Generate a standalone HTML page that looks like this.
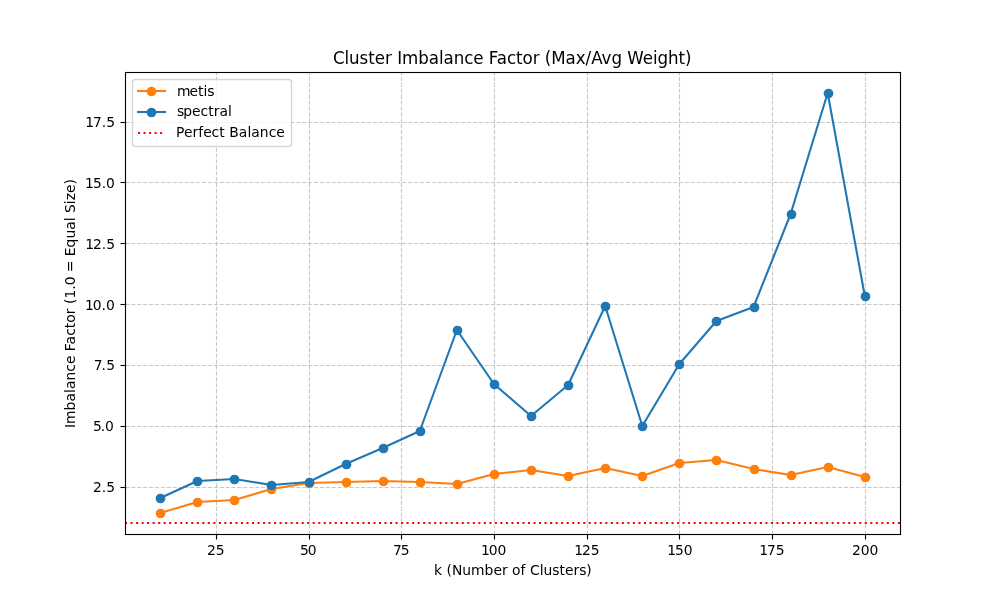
<!DOCTYPE html>
<html lang="en"><head><meta charset="utf-8"><title>Cluster Imbalance Factor (Max/Avg Weight)</title>
<style>html,body{margin:0;padding:0;background:#fff;overflow:hidden}svg{display:block}text{font-family:"DejaVu Sans","Liberation Sans",sans-serif;fill:#000}.t10{font-size:13.889px}.t12{font-size:16.667px}.grid{stroke:#b0b0b0;stroke-opacity:.7;stroke-width:1.111;stroke-dasharray:4.111 1.778;fill:none}.tick{stroke:#000;stroke-width:1.111;fill:none}.spine{stroke:#000;stroke-width:1.111;fill:none;stroke-linecap:square}.ln{fill:none;stroke-width:2.083;stroke-linejoin:round;stroke-linecap:square}.lb{fill:none;stroke-width:2.083;stroke-linecap:butt}.dot{fill:none;stroke:#f00;stroke-width:2.083;stroke-dasharray:2.083 3.4375}</style></head><body>
<svg width="1000" height="600" viewBox="0 0 1000 600">
<rect width="1000" height="600" fill="#fff"/>
<defs><clipPath id="ax"><rect x="125" y="72" width="775" height="462"/></clipPath></defs>
<g class="grid" clip-path="url(#ax)">
<line x1="216.5" y1="534.5" x2="216.5" y2="72.5"/>
<line x1="309.5" y1="534.5" x2="309.5" y2="72.5"/>
<line x1="401.5" y1="534.5" x2="401.5" y2="72.5"/>
<line x1="494.5" y1="534.5" x2="494.5" y2="72.5"/>
<line x1="587.5" y1="534.5" x2="587.5" y2="72.5"/>
<line x1="679.5" y1="534.5" x2="679.5" y2="72.5"/>
<line x1="772.5" y1="534.5" x2="772.5" y2="72.5"/>
<line x1="865.5" y1="534.5" x2="865.5" y2="72.5"/>
<line x1="125.5" y1="487.5" x2="900.5" y2="487.5"/>
<line x1="125.5" y1="426.5" x2="900.5" y2="426.5"/>
<line x1="125.5" y1="365.5" x2="900.5" y2="365.5"/>
<line x1="125.5" y1="304.5" x2="900.5" y2="304.5"/>
<line x1="125.5" y1="243.5" x2="900.5" y2="243.5"/>
<line x1="125.5" y1="182.5" x2="900.5" y2="182.5"/>
<line x1="125.5" y1="122.5" x2="900.5" y2="122.5"/>
</g>
<g class="tick">
<line x1="216.5" y1="534.5" x2="216.5" y2="539.5"/>
<line x1="309.5" y1="534.5" x2="309.5" y2="539.5"/>
<line x1="401.5" y1="534.5" x2="401.5" y2="539.5"/>
<line x1="494.5" y1="534.5" x2="494.5" y2="539.5"/>
<line x1="587.5" y1="534.5" x2="587.5" y2="539.5"/>
<line x1="679.5" y1="534.5" x2="679.5" y2="539.5"/>
<line x1="772.5" y1="534.5" x2="772.5" y2="539.5"/>
<line x1="865.5" y1="534.5" x2="865.5" y2="539.5"/>
<line x1="125.5" y1="487.5" x2="120.5" y2="487.5"/>
<line x1="125.5" y1="426.5" x2="120.5" y2="426.5"/>
<line x1="125.5" y1="365.5" x2="120.5" y2="365.5"/>
<line x1="125.5" y1="304.5" x2="120.5" y2="304.5"/>
<line x1="125.5" y1="243.5" x2="120.5" y2="243.5"/>
<line x1="125.5" y1="182.5" x2="120.5" y2="182.5"/>
<line x1="125.5" y1="122.5" x2="120.5" y2="122.5"/>
</g>
<text class="t10" transform="translate(207.099 555.276) scale(1 0.96)" x="0 8.75">25</text>
<text class="t10" transform="translate(298.928 555.276) scale(1 0.98)" x="1 8.75">50</text>
<text class="t10" x="392.881 400.631" y="555.276">75</text>
<text class="t10" transform="translate(479.897 555.276) scale(1 0.96)" x="1 8.875 17.625">100</text>
<text class="t10" transform="translate(573.225 555.276) scale(1 0.97)" x="1 8.875 17.625">125</text>
<text class="t10" transform="translate(666.179 555.276) scale(1 1.01)" x="1 8.875 17.625">150</text>
<text class="t10" transform="translate(758.132 555.276) scale(1 0.97)" x="1 8.875 17.625">175</text>
<text class="t10" transform="translate(851.898 555.276) scale(1 0.98)" x="0 8.75 17.5">200</text>
<text class="t10" transform="translate(93.028 491.888) scale(1 0.99)" x="0 8.75 13.125">2.5</text>
<text class="t10" transform="translate(91.903 431.048) scale(1 0.96)" x="1 8.75 13.125">5.0</text>
<text class="t10" x="93.653 101.403 106.278" y="370.208">7.5</text>
<text class="t10" transform="translate(83.903 310.368) scale(1 0.96)" x="1 8.875 17.625 22">10.0</text>
<text class="t10" transform="translate(84.153 248.528) scale(1 0.97)" x="1 8.875 17.625 22">12.5</text>
<text class="t10" transform="translate(84.028 187.688) scale(1 0.99)" x="1 8.875 17.625 22">15.0</text>
<text class="t10" transform="translate(84.153 126.848) scale(1 0.97)" x="1 8.875 17.625 22">17.5</text>
<text class="t10" transform="translate(434 575.273) scale(1 1.02)" x="0 8.125 12.5 18 28.375 37.125 50.625 59.5 68 73.75 78.125 86.625 91.625 96 105.75 109.625 118.375 125.5 131 139.5 145.25 152.375">k (Number of Clusters)</text>
<text class="t10" transform="translate(74.909 303.5) rotate(-90) scale(1 1.03)" x="-124.438 -120.438 -106.938 -98.062 -89.438 -85.562 -76.938 -68.188 -60.562 -52.062 -47.688 -40.938 -32.312 -24.688 -19.188 -10.688 -4.938 -0.562 4.938 13.812 18.188 26.938 31.312 42.938 47.312 56.062 64.938 73.688 82.312 86.188 90.562 99.312 103.188 110.562 119.062" y="0">Imbalance Factor (1.0 = Equal Size)</text>
<text class="t12" transform="translate(332.938 63.667) scale(1 1.07)" x="0 11.5 16.125 26.625 35.375 41.875 52.125 59 64.25 69.125 85.375 95.875 106 110.625 120.75 131.25 140.375 150.625 155.875 163.875 174 183.125 189.625 199.75 206.625 211.875 218.25 232.625 242.75 252.625 258.25 268.625 278.5 289 294.25 309.75 320 324.625 335.125 345.625 352.125">Cluster Imbalance Factor (Max/Avg Weight)</text>
<g clip-path="url(#ax)"><polyline class="ln" stroke="#ff7f0e" points="160.227,513 197.309,502 234.39,500 271.471,489 308.553,483 345.634,482 382.715,481 419.797,482 456.878,484 493.959,474 531.041,470 568.122,476 605.203,468 642.285,476 679.366,463 716.447,460 753.529,469 790.61,475 827.691,467 864.773,477"/>
<circle cx="160.5" cy="513.5" r="4.861" fill="#ff7f0e"/>
<circle cx="197.5" cy="502.5" r="4.861" fill="#ff7f0e"/>
<circle cx="234.5" cy="500.5" r="4.861" fill="#ff7f0e"/>
<circle cx="271.5" cy="489.5" r="4.861" fill="#ff7f0e"/>
<circle cx="309.5" cy="483.5" r="4.861" fill="#ff7f0e"/>
<circle cx="346.5" cy="482.5" r="4.861" fill="#ff7f0e"/>
<circle cx="383.5" cy="481.5" r="4.861" fill="#ff7f0e"/>
<circle cx="420.5" cy="482.5" r="4.861" fill="#ff7f0e"/>
<circle cx="457.5" cy="484.5" r="4.861" fill="#ff7f0e"/>
<circle cx="494.5" cy="474.5" r="4.861" fill="#ff7f0e"/>
<circle cx="531.5" cy="470.5" r="4.861" fill="#ff7f0e"/>
<circle cx="568.5" cy="476.5" r="4.861" fill="#ff7f0e"/>
<circle cx="605.5" cy="468.5" r="4.861" fill="#ff7f0e"/>
<circle cx="642.5" cy="476.5" r="4.861" fill="#ff7f0e"/>
<circle cx="679.5" cy="463.5" r="4.861" fill="#ff7f0e"/>
<circle cx="716.5" cy="460.5" r="4.861" fill="#ff7f0e"/>
<circle cx="754.5" cy="469.5" r="4.861" fill="#ff7f0e"/>
<circle cx="791.5" cy="475.5" r="4.861" fill="#ff7f0e"/>
<circle cx="828.5" cy="467.5" r="4.861" fill="#ff7f0e"/>
<circle cx="865.5" cy="477.5" r="4.861" fill="#ff7f0e"/>
</g>
<g clip-path="url(#ax)"><polyline class="ln" stroke="#1f77b4" points="160.227,498 197.309,481 234.39,479 271.471,485 308.553,482 345.634,464 382.715,448 419.797,431 456.878,330 493.959,384 531.041,416 568.122,385 605.203,306 642.285,426 679.366,364 716.447,321 753.529,307 790.61,214 827.691,93 864.773,296"/>
<circle cx="160.5" cy="498.5" r="4.861" fill="#1f77b4"/>
<circle cx="197.5" cy="481.5" r="4.861" fill="#1f77b4"/>
<circle cx="234.5" cy="479.5" r="4.861" fill="#1f77b4"/>
<circle cx="271.5" cy="485.5" r="4.861" fill="#1f77b4"/>
<circle cx="309.5" cy="482.5" r="4.861" fill="#1f77b4"/>
<circle cx="346.5" cy="464.5" r="4.861" fill="#1f77b4"/>
<circle cx="383.5" cy="448.5" r="4.861" fill="#1f77b4"/>
<circle cx="420.5" cy="431.5" r="4.861" fill="#1f77b4"/>
<circle cx="457.5" cy="330.5" r="4.861" fill="#1f77b4"/>
<circle cx="494.5" cy="384.5" r="4.861" fill="#1f77b4"/>
<circle cx="531.5" cy="416.5" r="4.861" fill="#1f77b4"/>
<circle cx="568.5" cy="385.5" r="4.861" fill="#1f77b4"/>
<circle cx="605.5" cy="306.5" r="4.861" fill="#1f77b4"/>
<circle cx="642.5" cy="426.5" r="4.861" fill="#1f77b4"/>
<circle cx="679.5" cy="364.5" r="4.861" fill="#1f77b4"/>
<circle cx="716.5" cy="321.5" r="4.861" fill="#1f77b4"/>
<circle cx="754.5" cy="307.5" r="4.861" fill="#1f77b4"/>
<circle cx="791.5" cy="214.5" r="4.861" fill="#1f77b4"/>
<circle cx="828.5" cy="93.5" r="4.861" fill="#1f77b4"/>
<circle cx="865.5" cy="296.5" r="4.861" fill="#1f77b4"/>
</g>
<line class="dot" x1="125" y1="523" x2="900" y2="523" clip-path="url(#ax)"/>
<g class="spine"><line x1="125.5" y1="534.5" x2="125.5" y2="72.5"/><line x1="900.5" y1="534.5" x2="900.5" y2="72.5"/><line x1="125.5" y1="534.5" x2="900.5" y2="534.5"/><line x1="125.5" y1="72.5" x2="900.5" y2="72.5"/></g>
<g stroke="#000" stroke-opacity="0.055" stroke-width="1"><line x1="125" y1="71.5" x2="901" y2="71.5"/><line x1="125" y1="73.5" x2="901" y2="73.5"/><line x1="125" y1="533.5" x2="901" y2="533.5"/><line x1="125" y1="535.5" x2="901" y2="535.5"/></g>
<rect x="132.5" y="79.5" width="159.0" height="67.0" rx="2.778" ry="2.778" fill="#fff" stroke="#ccc" stroke-width="1.389" opacity="0.8"/>
<line class="lb" x1="137" y1="91.0" x2="166" y2="91.0" stroke="#ff7f0e"/><circle cx="151.5" cy="91.5" r="4.861" fill="#ff7f0e"/>
<line class="lb" x1="137" y1="112.0" x2="166" y2="112.0" stroke="#1f77b4"/><circle cx="151.5" cy="112.5" r="4.861" fill="#1f77b4"/>
<line class="dot" x1="138" y1="133.0" x2="165.3" y2="133.0"/>
<text class="t10" transform="translate(175.889 95.7) scale(1 1.05)" x="1 13.5 22 27.5 31.375">metis</text>
<text class="t10" transform="translate(176.014 115.75) scale(1 1.02)" x="1 7.125 16 24.5 32.125 37.625 43.375 52">spectral</text>
<text class="t10" transform="translate(176.014 136.75) scale(1 1.02)" x="0 7.875 16.375 22.125 27.125 35.625 43.25 48.75 53.125 62.75 71.375 75.25 83.875 92.625 100.25">Perfect Balance</text>
</svg></body></html>
